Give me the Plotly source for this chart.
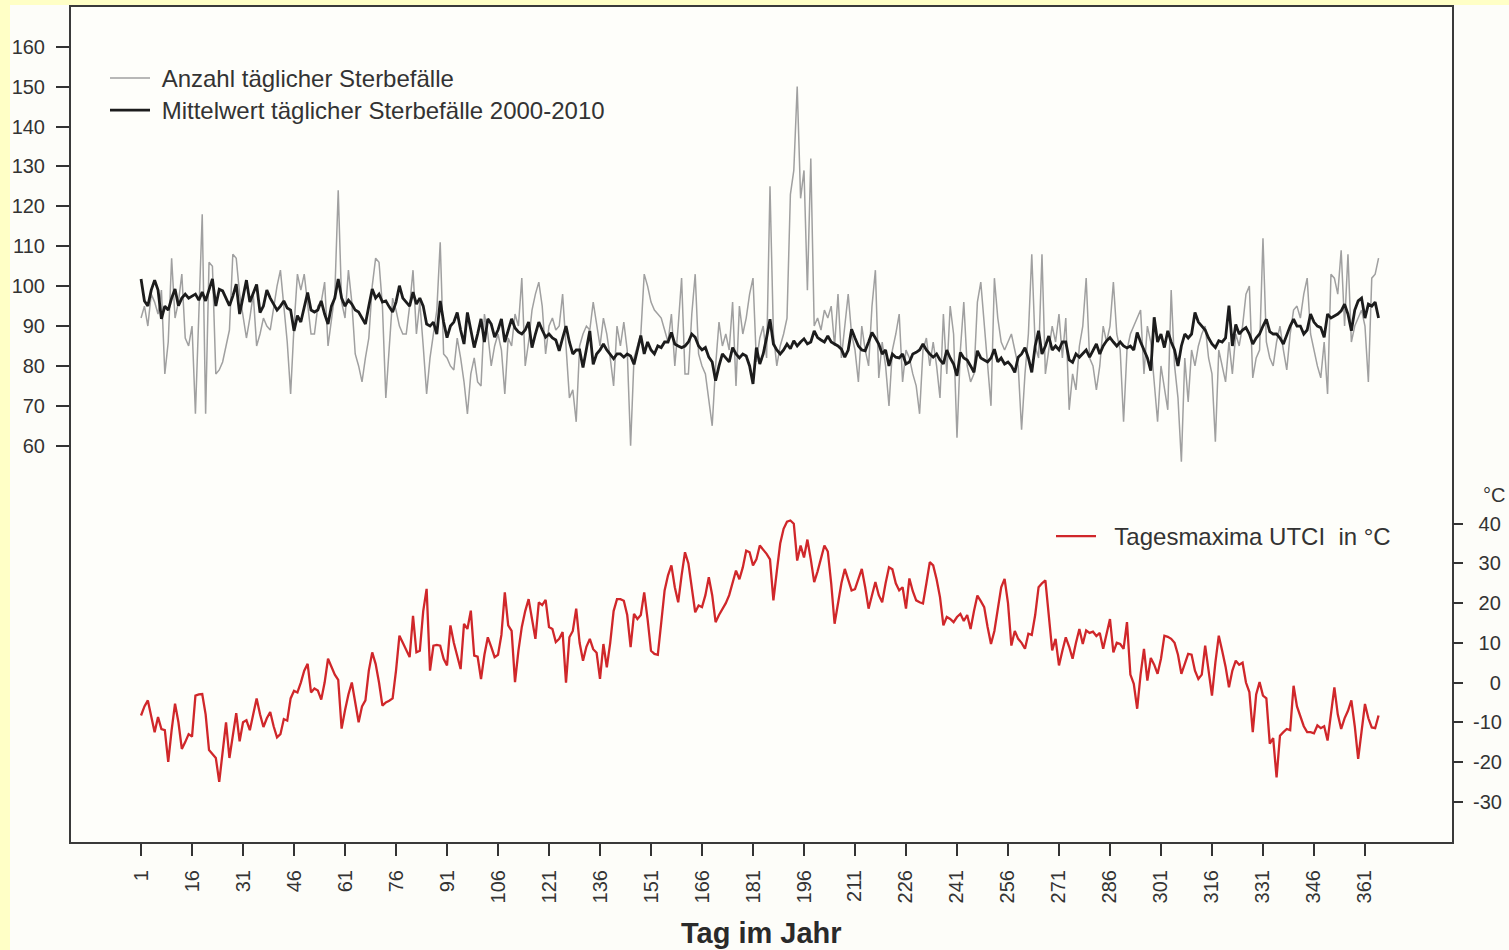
import plotly.graph_objects as go

# ---------------- data ----------------
days = list(range(1, 366))

x_tick_vals = [1, 16, 31, 46, 61, 76, 91, 106, 121, 136, 151, 166, 181, 196, 211,
               226, 241, 256, 271, 286, 301, 316, 331, 346, 361]
left_tick_vals = [60, 70, 80, 90, 100, 110, 120, 130, 140, 150, 160]
right_tick_vals = [-30, -20, -10, 0, 10, 20, 30, 40]
# right-aligned look: padded with punctuation / figure spaces
right_tick_text = ["-30", "-20", "-10", "\u2007\u20080", "\u200810", "\u200820",
                   "\u200830", "\u200840"]

# Anzahl täglicher Sterbefälle (grey)
deaths_daily = [
    92, 95, 90, 98, 96, 93, 99, 78, 86, 107, 92, 96, 103, 87, 85,
    90, 68, 95, 118, 68, 106, 105, 78, 79, 81, 85, 89, 108, 107, 98,
    93, 87, 92, 98, 85, 88, 92, 90, 89, 95, 100, 104, 95, 86, 73,
    90, 103, 99, 103, 96, 88, 88, 95, 96, 101, 85, 92, 98, 124, 96,
    92, 104, 96, 83, 80, 76, 82, 87, 100, 107, 106, 95, 72, 84, 97,
    94, 90, 88, 88, 95, 104, 88, 96, 85, 73, 82, 88, 94, 111, 83,
    82, 80, 79, 87, 82, 76, 68, 78, 82, 76, 75, 93, 88, 80, 85,
    88, 84, 73, 87, 85, 93, 90, 102, 80, 86, 94, 98, 101, 95, 83,
    90, 92, 89, 90, 98, 85, 72, 74, 66, 85, 88, 90, 89, 96, 90,
    85, 92, 88, 82, 75, 90, 85, 91, 84, 60, 82, 85, 88, 103, 100,
    96, 94, 93, 92, 89, 86, 93, 80, 90, 102, 78, 78, 93, 103, 83,
    80, 78, 72, 65, 80, 91, 85, 88, 84, 96, 75, 95, 88, 92, 98,
    102, 81, 87, 90, 82, 125, 88, 80, 85, 88, 92, 123, 129, 150, 122,
    129, 99, 132, 90, 92, 89, 94, 92, 95, 85, 98, 82, 90, 98, 88,
    84, 76, 90, 84, 80, 95, 104, 77, 86, 80, 70, 84, 88, 93, 76,
    84, 82, 78, 75, 68, 84, 87, 80, 86, 80, 72, 93, 78, 95, 88,
    62, 84, 96, 80, 76, 78, 96, 101, 90, 80, 70, 102, 92, 86, 84,
    86, 88, 84, 80, 64, 78, 88, 108, 85, 82, 108, 78, 84, 90, 86,
    93, 82, 92, 69, 78, 74, 85, 90, 102, 82, 80, 74, 80, 90, 86,
    90, 101, 88, 84, 66, 84, 88, 90, 92, 94, 78, 90, 86, 76, 66,
    80, 74, 69, 99, 80, 72, 56, 82, 71, 84, 80, 85, 88, 90, 82,
    78, 61, 84, 80, 76, 86, 78, 88, 85, 90, 98, 100, 77, 82, 84,
    112, 86, 82, 80, 86, 90, 84, 79, 88, 94, 95, 92, 98, 102, 88,
    84, 80, 77, 86, 73, 103, 102, 98, 109, 90, 108, 86, 90, 92, 94,
    90, 76, 102, 103, 107,
]

# Mittelwert täglicher Sterbefälle 2000-2010 (black)
deaths_mean = [
    101.8, 96.3, 95, 99, 101.5, 99, 91.8, 95, 94, 97, 99.3, 95.1, 97, 98, 97,
    97.5, 98, 96.5, 98.5, 96.3, 99, 101.8, 95, 99.2, 98.8, 97, 95.1, 97.5, 100.5, 93,
    97, 101.5, 96, 98, 100.4, 93.4, 95, 99, 97, 95.5, 94, 95, 96.3, 94.5, 94,
    88.8, 92.6, 91, 95, 98.4, 94, 93.5, 94, 96.3, 93, 90.5, 95, 97, 101.8, 97,
    95, 96.5, 95.5, 94, 93.5, 92, 90.5, 95, 99.3, 97, 98, 96, 96.3, 94.8, 93.5,
    96, 100.1, 97, 96, 95, 98.5, 95.5, 97, 95, 90.5, 90, 91, 88, 96.3, 91,
    87.1, 90, 91, 93.4, 89, 85.5, 93.4, 89, 84.6, 88, 91.8, 86, 91.8, 90.5, 87.2,
    89, 91.8, 86, 89, 91.8, 89.5, 88.5, 88, 89, 91, 84.6, 88, 91, 89, 87.2,
    88, 87, 86.5, 83.8, 87, 90, 86, 83, 84, 84, 79.6, 84, 88.8, 80.4, 83,
    84, 85.5, 84, 83, 81.8, 83, 83, 82.2, 83, 82.5, 80.4, 84, 87.6, 83, 86,
    84, 83, 85, 84.6, 86, 86, 88.4, 85.5, 85, 84.6, 85, 86, 88, 87.2, 85,
    84, 84.6, 82.2, 81, 76.3, 80, 83, 82, 81, 84.6, 83, 82, 83, 82.5, 80,
    75.5, 84.6, 80.5, 83, 87.1, 91.7, 85.5, 84, 83, 84, 85.5, 84.3, 86.3, 85, 86,
    86.8, 85.5, 86, 88.8, 87.1, 86.5, 86, 87.5, 86, 85.5, 85, 84.2, 82.2, 84, 89.2,
    87, 85, 84, 83.8, 86, 88.4, 87, 85.5, 83, 84, 80, 83, 82.2, 82, 83,
    80.5, 81, 83, 83.4, 84, 85.5, 84, 83, 82.2, 83, 81.5, 80.5, 84, 82, 80.5,
    77.5, 83.4, 82, 81.5, 80, 78.4, 83.8, 82, 81.5, 81, 82, 84.2, 81, 82, 80.5,
    81, 80, 78.4, 82.2, 83, 84.6, 82, 78.4, 85, 88.8, 83, 85, 87.5, 84, 85,
    84, 86, 86, 81.5, 80.9, 83, 82.2, 83, 84, 82.2, 84, 85.5, 83, 85, 86.3,
    87.1, 86, 85, 86, 85, 84.5, 85, 84, 88.4, 86, 84, 82, 78.8, 92.2, 86,
    88, 84.6, 88.8, 86, 84, 80, 85, 88, 87, 88, 93.4, 91, 90, 89, 87,
    85.5, 84.6, 86.3, 86, 87, 95.1, 85, 90.4, 88, 89, 89.6, 88, 85.5, 87, 88,
    90, 91.7, 88.6, 88, 88, 87, 85.5, 88, 90, 91.7, 90, 90, 88, 89, 93,
    91, 90, 89.6, 87.2, 93, 92, 92.5, 93, 93.8, 95.5, 93, 88.8, 94, 96.3, 97,
    92, 95.5, 95, 96, 92,
]

# Tagesmaxima UTCI in °C (red)
utci_max = [
    -8.3, -6, -4.5, -9, -12.5, -8.7, -11.7, -12, -20, -12, -5.3, -10, -16.7, -15, -13,
    -13.6, -3.3, -3, -2.9, -8, -17, -18, -19, -25, -18, -10, -19, -13, -7.7, -14.8,
    -10, -9.5, -12, -8, -4, -8, -11.2, -9, -7.4, -11, -13.8, -13, -9.2, -9.6, -4,
    -2.1, -2.5, 0, 3, 4.7, -2.5, -1.5, -2, -4.3, 0, 6, 4, 2, 0.7, -11.6,
    -7, -3, 0, -5, -10, -6, -4.5, 3, 7.6, 4.7, 0, -5.8, -5, -4.6, -4,
    3, 11.8, 10, 8, 6.4, 16.8, 7.6, 8, 18, 23.6, 3, 9.3, 9.5, 9.3, 6,
    4.3, 14.4, 10, 7, 3.4, 14.8, 13.5, 18.1, 6.8, 6.5, 0.9, 7, 11.4, 9, 6.4,
    7, 12, 22.7, 14.4, 13, 0.1, 8, 14, 18, 21, 16, 11, 20.2, 19.5, 20.8,
    14, 13.5, 10.2, 11, 12.7, 0, 11.4, 13, 18.6, 10, 5.5, 9, 11, 8.4, 7.5,
    0.9, 9.7, 3.8, 10, 18, 21, 21, 20.6, 17, 8.9, 17.3, 16, 17, 22.7, 15.9,
    8, 7.2, 7, 15, 23.2, 27, 29.5, 24, 20.2, 27, 32.8, 30, 24, 17.7, 19.4,
    19, 22, 26.5, 22, 15.2, 17, 18.6, 20, 22, 25, 28.2, 26, 29, 33.2, 32.8,
    29.5, 31, 34.5, 33.5, 32.4, 31, 20.7, 28, 35, 38.7, 40.5, 40.8, 40, 30.7, 34.5,
    31.5, 36, 31, 25.3, 28, 31, 34.5, 33, 25, 14.8, 20, 25, 28.6, 26, 23.2,
    23.5, 26, 28.6, 24, 18.6, 22, 25.3, 22, 20.2, 25, 29, 28.5, 25, 23.2, 24,
    18.6, 26.2, 23, 20.7, 20.2, 19.9, 25, 30.3, 29.5, 26, 21.5, 14.4, 16.5, 16, 15.2,
    16.5, 17.3, 15.5, 17, 13.5, 18, 21.9, 20.5, 19, 14, 9.7, 13, 18, 24, 26.1,
    20, 9.3, 13, 11, 10, 8.5, 12.3, 12, 17, 24, 25, 25.7, 16, 8.1, 11,
    4.3, 8, 11.4, 9, 6, 10, 13.5, 9.7, 13.1, 12.5, 12.8, 11.7, 12.5, 8.5, 12,
    16, 7.6, 10, 9.7, 8.5, 15.2, 2, -0.3, -6.6, 2, 8.5, 0.5, 6.2, 4.5, 2.2,
    6, 11.8, 11.5, 11, 10, 7, 2.2, 5, 7.2, 7, 3, 0.9, 2, 9.3, 3,
    -3.3, 5, 11.8, 8, 4, -1.2, 3, 5.5, 4.5, 5, 0, -2.4, -12.5, -3, 0.1,
    -3.3, -4, -15.4, -14, -23.9, -13.4, -12.5, -11.7, -12, -0.8, -6, -8.7, -11, -12.5, -12.5,
    -12.8, -10.8, -11.5, -11, -14.6, -8, -1.2, -8, -11.7, -9, -7.1, -4.5, -11, -19.2, -12,
    -5.4, -9, -11.3, -11.5, -8.3,
]

name_daily = "\u00a0Anzahl täglicher Sterbefälle"
name_mean = "\u00a0Mittelwert täglicher Sterbefälle 2000-2010"
name_utci = "\u00a0\u00a0Tagesmaxima UTCI\u00a0 in °C"
x_title = "Tag im Jahr"
unit_label = "°C"

# ---------------- figure ----------------
FONT = "Liberation Sans, Arial, sans-serif"
TXT = "#333333"
W, H = 1509, 950
ML, MR, MT, MB = 71, 57, 7, 108
PW, PH = W - ML - MR, H - MT - MB


def px_x(p):
    return (p - ML) / PW


def px_y(p):
    return (H - MB - p) / PH


fig = go.Figure()
fig.add_trace(go.Scatter(x=days, y=deaths_daily, mode="lines", name=name_daily,
                         line=dict(color="#a0a0a0", width=1.5), legend="legend",
                         showlegend=True))
fig.add_trace(go.Scatter(x=days, y=deaths_mean, mode="lines", name=name_mean,
                         line=dict(color="#1c1c1c", width=2.8), legend="legend3",
                         showlegend=True))
fig.add_trace(go.Scatter(x=days, y=utci_max, mode="lines", name=name_utci,
                         line=dict(color="#d0272a", width=2.3), yaxis="y2",
                         legend="legend2", showlegend=True))

legend_common = dict(xanchor="left", yanchor="top", bgcolor="rgba(0,0,0,0)",
                     font=dict(size=24, color=TXT), itemwidth=40, visible=True)

fig.update_layout(
    width=W, height=H,
    showlegend=True,
    margin=dict(l=ML, r=MR, t=MT, b=MB, autoexpand=False),
    paper_bgcolor="#fdfdf9",
    plot_bgcolor="#fefefa",
    font=dict(family=FONT, color=TXT, size=20),
    xaxis=dict(range=[-19.6, 386.6], tickvals=x_tick_vals, tickangle=-90,
               ticks="outside", ticklen=12, tickwidth=2, tickcolor="#333",
               showline=True, linecolor="#3a3a3a", linewidth=2, mirror=True,
               showgrid=False, zeroline=False, ticklabelstandoff=6,
               tickfont=dict(size=20, color=TXT)),
    yaxis=dict(range=[-39.3, 169.95], tickvals=left_tick_vals,
               ticks="outside", ticklen=13, tickwidth=2, tickcolor="#333",
               showline=True, linecolor="#3a3a3a", linewidth=2, mirror=True,
               showgrid=False, zeroline=False, ticklabelstandoff=7,
               tickfont=dict(size=20, color=TXT)),
    yaxis2=dict(range=[-40.15, 170.1], tickvals=right_tick_vals,
                ticktext=right_tick_text, overlaying="y",
                side="right", ticks="outside", ticklen=10, tickwidth=2,
                tickcolor="#333", showline=False, showgrid=False, zeroline=False,
                ticklabelstandoff=6, tickfont=dict(size=20, color=TXT)),
    legend=dict(x=px_x(105), y=px_y(56), **legend_common),
    legend3=dict(x=px_x(105), y=px_y(88), **legend_common),
    legend2=dict(x=px_x(1051), y=px_y(514), **legend_common),
    annotations=[
        dict(text="<b>" + x_title + "</b>", x=0.5, y=px_y(933), xref="paper",
             yref="paper", showarrow=False, xanchor="center", yanchor="middle",
             font=dict(size=29, color="#2a2a2a")),
        dict(text=unit_label, x=px_x(1481), y=px_y(495), xref="paper",
             yref="paper", showarrow=False, xanchor="left", yanchor="middle",
             font=dict(size=20, color=TXT)),
    ],
    shapes=[
        dict(type="rect", xref="paper", yref="paper", x0=px_x(0), x1=px_x(10),
             y0=px_y(H), y1=px_y(0), fillcolor="#ffffc6", line=dict(width=0),
             layer="above"),
        dict(type="rect", xref="paper", yref="paper", x0=px_x(0), x1=px_x(W),
             y0=px_y(5), y1=px_y(0), fillcolor="#ffffc6", line=dict(width=0),
             layer="above"),
    ],
)

fig.write_html(
    "out.html",
    config={"displayModeBar": False},
    post_script="document.body.style.margin='0px';"
                "document.body.style.overflow='hidden';",
)
